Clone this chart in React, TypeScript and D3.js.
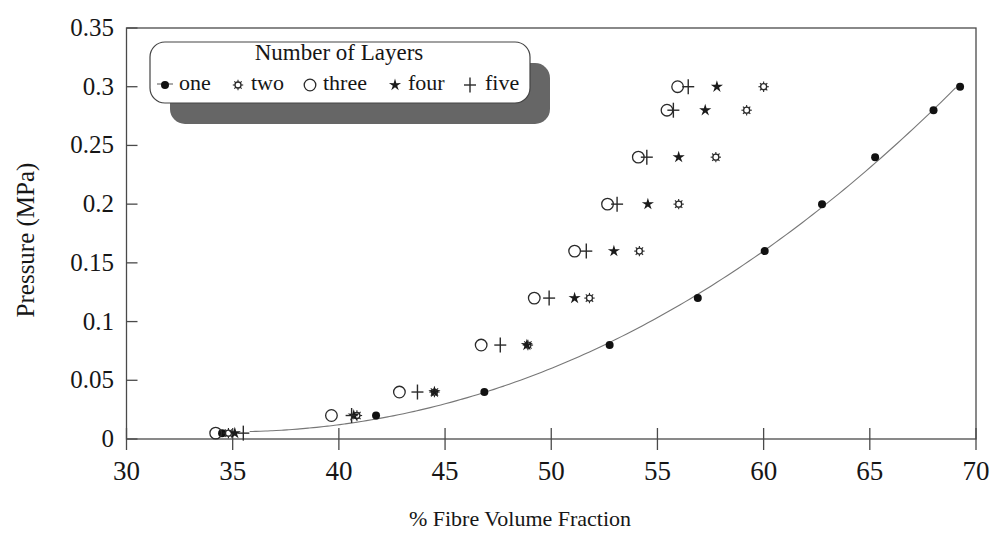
import React from "react";
import * as d3 from "d3";

// Pressure levels shared by every layer count (MPa)
const pressure = [0.005, 0.02, 0.04, 0.08, 0.12, 0.16, 0.2, 0.24, 0.28, 0.3];

// % fibre volume fraction reached at each pressure, per number of layers
const vfOne = [34.5, 41.75, 46.85, 52.75, 56.9, 60.05, 62.75, 65.25, 68.0, 69.25];
const vfTwo = [34.8, 40.85, 44.5, 48.9, 51.8, 54.15, 56.0, 57.75, 59.2, 60.0];
const vfThree = [34.2, 39.65, 42.85, 46.7, 49.2, 51.1, 52.65, 54.1, 55.45, 55.95];
const vfFour = [35.1, 40.7, 44.5, 48.85, 51.1, 52.95, 54.55, 56.0, 57.25, 57.8];
const vfFive = [35.5, 40.6, 43.7, 47.6, 49.9, 51.65, 53.1, 54.5, 55.75, 56.45];

const seriesNames = ["one", "two", "three", "four", "five"];
const xTicks = [30, 35, 40, 45, 50, 55, 60, 65, 70];
const yTicks = [0, 0.05, 0.1, 0.15, 0.2, 0.25, 0.3, 0.35];
const yTickLabels = ["0", "0.05", "0.1", "0.15", "0.2", "0.25", "0.3", "0.35"];

// Range over which the single-layer trend curve is drawn
const trendFrom = 35.8;

const W = 994;
const H = 537;
const FONT = "'Liberation Serif', 'Times New Roman', serif";
const INK = "#2a2a2a";
const TEXT = "#161616";

const x = d3.scaleLinear().domain([30, 70]).range([126.5, 976]);
const y = d3.scaleLinear().domain([0, 0.35]).range([439, 28]);

// Least-squares polynomial fit (on a centred variable for stability)
function polyFit(xs: number[], ys: number[], deg: number) {
  const c = 50, s = 10;
  const n = deg + 1;
  const A: number[][] = Array.from({ length: n }, () => new Array(n + 1).fill(0));
  xs.forEach((xv, k) => {
    const t = (xv - c) / s;
    for (let i = 0; i < n; i++) {
      for (let j = 0; j < n; j++) A[i][j] += Math.pow(t, i + j);
      A[i][n] += Math.pow(t, i) * ys[k];
    }
  });
  for (let i = 0; i < n; i++) {
    let p = i;
    for (let r = i + 1; r < n; r++) if (Math.abs(A[r][i]) > Math.abs(A[p][i])) p = r;
    [A[i], A[p]] = [A[p], A[i]];
    for (let r = 0; r < n; r++) {
      if (r === i) continue;
      const f = A[r][i] / A[i][i];
      for (let k = i; k <= n; k++) A[r][k] -= f * A[i][k];
    }
  }
  const coef = A.map((row, i) => row[n] / row[i]);
  return (xv: number) => {
    const t = (xv - c) / s;
    return coef.reduce((acc, a, i) => acc + a * Math.pow(t, i), 0);
  };
}

function starPath(cx: number, cy: number, R: number, r: number) {
  const pts: string[] = [];
  for (let i = 0; i < 10; i++) {
    const rad = i % 2 === 0 ? R : r;
    const a = -Math.PI / 2 + (i * Math.PI) / 5;
    pts.push(`${(cx + rad * Math.cos(a)).toFixed(2)},${(cy + rad * Math.sin(a)).toFixed(2)}`);
  }
  return "M" + pts.join("L") + "Z";
}

function Marker({ kind, cx, cy }: { kind: string; cx: number; cy: number }) {
  if (kind === "one") return <circle cx={cx} cy={cy} r={4} fill="#111" />;
  if (kind === "two") {
    const rays = d3.range(8).map((i) => {
      const a = (i * Math.PI) / 4;
      return (
        <line key={i} x1={cx + 3 * Math.cos(a)} y1={cy + 3 * Math.sin(a)}
          x2={cx + 5.2 * Math.cos(a)} y2={cy + 5.2 * Math.sin(a)}
          stroke={INK} strokeWidth={1.1} />
      );
    });
    return (
      <g>
        <circle cx={cx} cy={cy} r={3} fill="none" stroke={INK} strokeWidth={1.3} />
        {rays}
      </g>
    );
  }
  if (kind === "three")
    return <circle cx={cx} cy={cy} r={5.8} fill="none" stroke={INK} strokeWidth={1.3} />;
  if (kind === "four") return <path d={starPath(cx, cy, 6.4, 2.3)} fill="#1a1a1a" />;
  return (
    <g stroke={INK} strokeWidth={1.4}>
      <line x1={cx - 6} y1={cy} x2={cx + 6} y2={cy} />
      <line x1={cx} y1={cy - 7.5} x2={cx} y2={cy + 7.5} />
    </g>
  );
}

export default function App() {
  const series = [vfOne, vfTwo, vfThree, vfFour, vfFive];
  const fit = polyFit(vfOne, pressure, 3);
  const xEnd = d3.max(vfOne) as number;
  const curvePts = d3.range(trendFrom, xEnd + 0.001, 0.25).map((v) => [v, fit(v)] as [number, number]);
  const curve = d3.line<[number, number]>().x((d) => x(d[0])).y((d) => y(d[1])).curve(d3.curveCatmullRom)(curvePts) || "";

  const [x0, x1] = x.range();
  const [yb, yt] = y.range();

  // legend layout
  const lg = { x: 150, y: 42, w: 380, h: 61, r: 15, dx: 20, dy: 21 };
  const legendItems = [
    { name: "one", mx: 165, tx: 179 },
    { name: "two", mx: 238, tx: 251 },
    { name: "three", mx: 310, tx: 323 },
    { name: "four", mx: 395, tx: 408 },
    { name: "five", mx: 470, tx: 485 },
  ];

  return (
    <svg width={W} height={H} viewBox={`0 0 ${W} ${H}`}
      style={{ position: "absolute", left: 0, top: 0, background: "#fff" }}
      fontFamily={FONT}>
      <rect x={0} y={0} width={W} height={H} fill="#fff" />

      {/* plot frame */}
      <rect x={x0} y={yt} width={x1 - x0} height={yb - yt} fill="none" stroke="#4a4a4a" strokeWidth={1.3} />

      {/* x axis ticks and labels */}
      {xTicks.map((t) => (
        <g key={t}>
          <line x1={x(t)} x2={x(t)} y1={yb - 11} y2={yb + 11} stroke="#4a4a4a" strokeWidth={1.3} />
          <text x={x(t)} y={yb + 41} textAnchor="middle" fontSize={27} fill={TEXT}>{t}</text>
        </g>
      ))}

      {/* y axis ticks and labels */}
      {yTicks.map((t, i) => (
        <g key={t}>
          <line x1={x0} x2={x0 + 11} y1={y(t)} y2={y(t)} stroke="#4a4a4a" strokeWidth={1.3} />
          <text x={114} y={y(t) + 8} textAnchor="end" fontSize={25} fill={TEXT}>{yTickLabels[i]}</text>
        </g>
      ))}

      <text x={520} y={526} textAnchor="middle" fontSize={22} fill={TEXT}>% Fibre Volume Fraction</text>
      <text transform={`translate(34, 240) rotate(-90)`} textAnchor="middle" fontSize={25} fill={TEXT}>Pressure (MPa)</text>

      {/* single-layer trend curve */}
      <path d={curve} fill="none" stroke="#777" strokeWidth={1.1} />

      {/* data points */}
      {series.map((vals, si) =>
        vals.map((v, i) => (
          <Marker key={`${si}-${i}`} kind={seriesNames[si]} cx={x(v)} cy={y(pressure[i])} />
        ))
      )}

      {/* legend */}
      <rect x={lg.x + lg.dx} y={lg.y + lg.dy} width={lg.w} height={lg.h} rx={lg.r} fill="#666" />
      <rect x={lg.x} y={lg.y} width={lg.w} height={lg.h} rx={lg.r} fill="#fff" stroke="#444" strokeWidth={1.2} />
      <text x={339} y={lg.y + 18} textAnchor="middle" fontSize={23} fill={TEXT}>Number of Layers</text>
      {legendItems.map((it) => (
        <g key={it.name}>
          {it.name === "one" && <line x1={it.mx - 8} x2={it.mx + 8} y1={lg.y + 42} y2={lg.y + 42} stroke="#555" strokeWidth={1} />}
          <Marker kind={it.name} cx={it.mx} cy={lg.y + 43} />
          <text x={it.tx} y={lg.y + 48} fontSize={22} fill={TEXT}>{it.name}</text>
        </g>
      ))}
    </svg>
  );
}
